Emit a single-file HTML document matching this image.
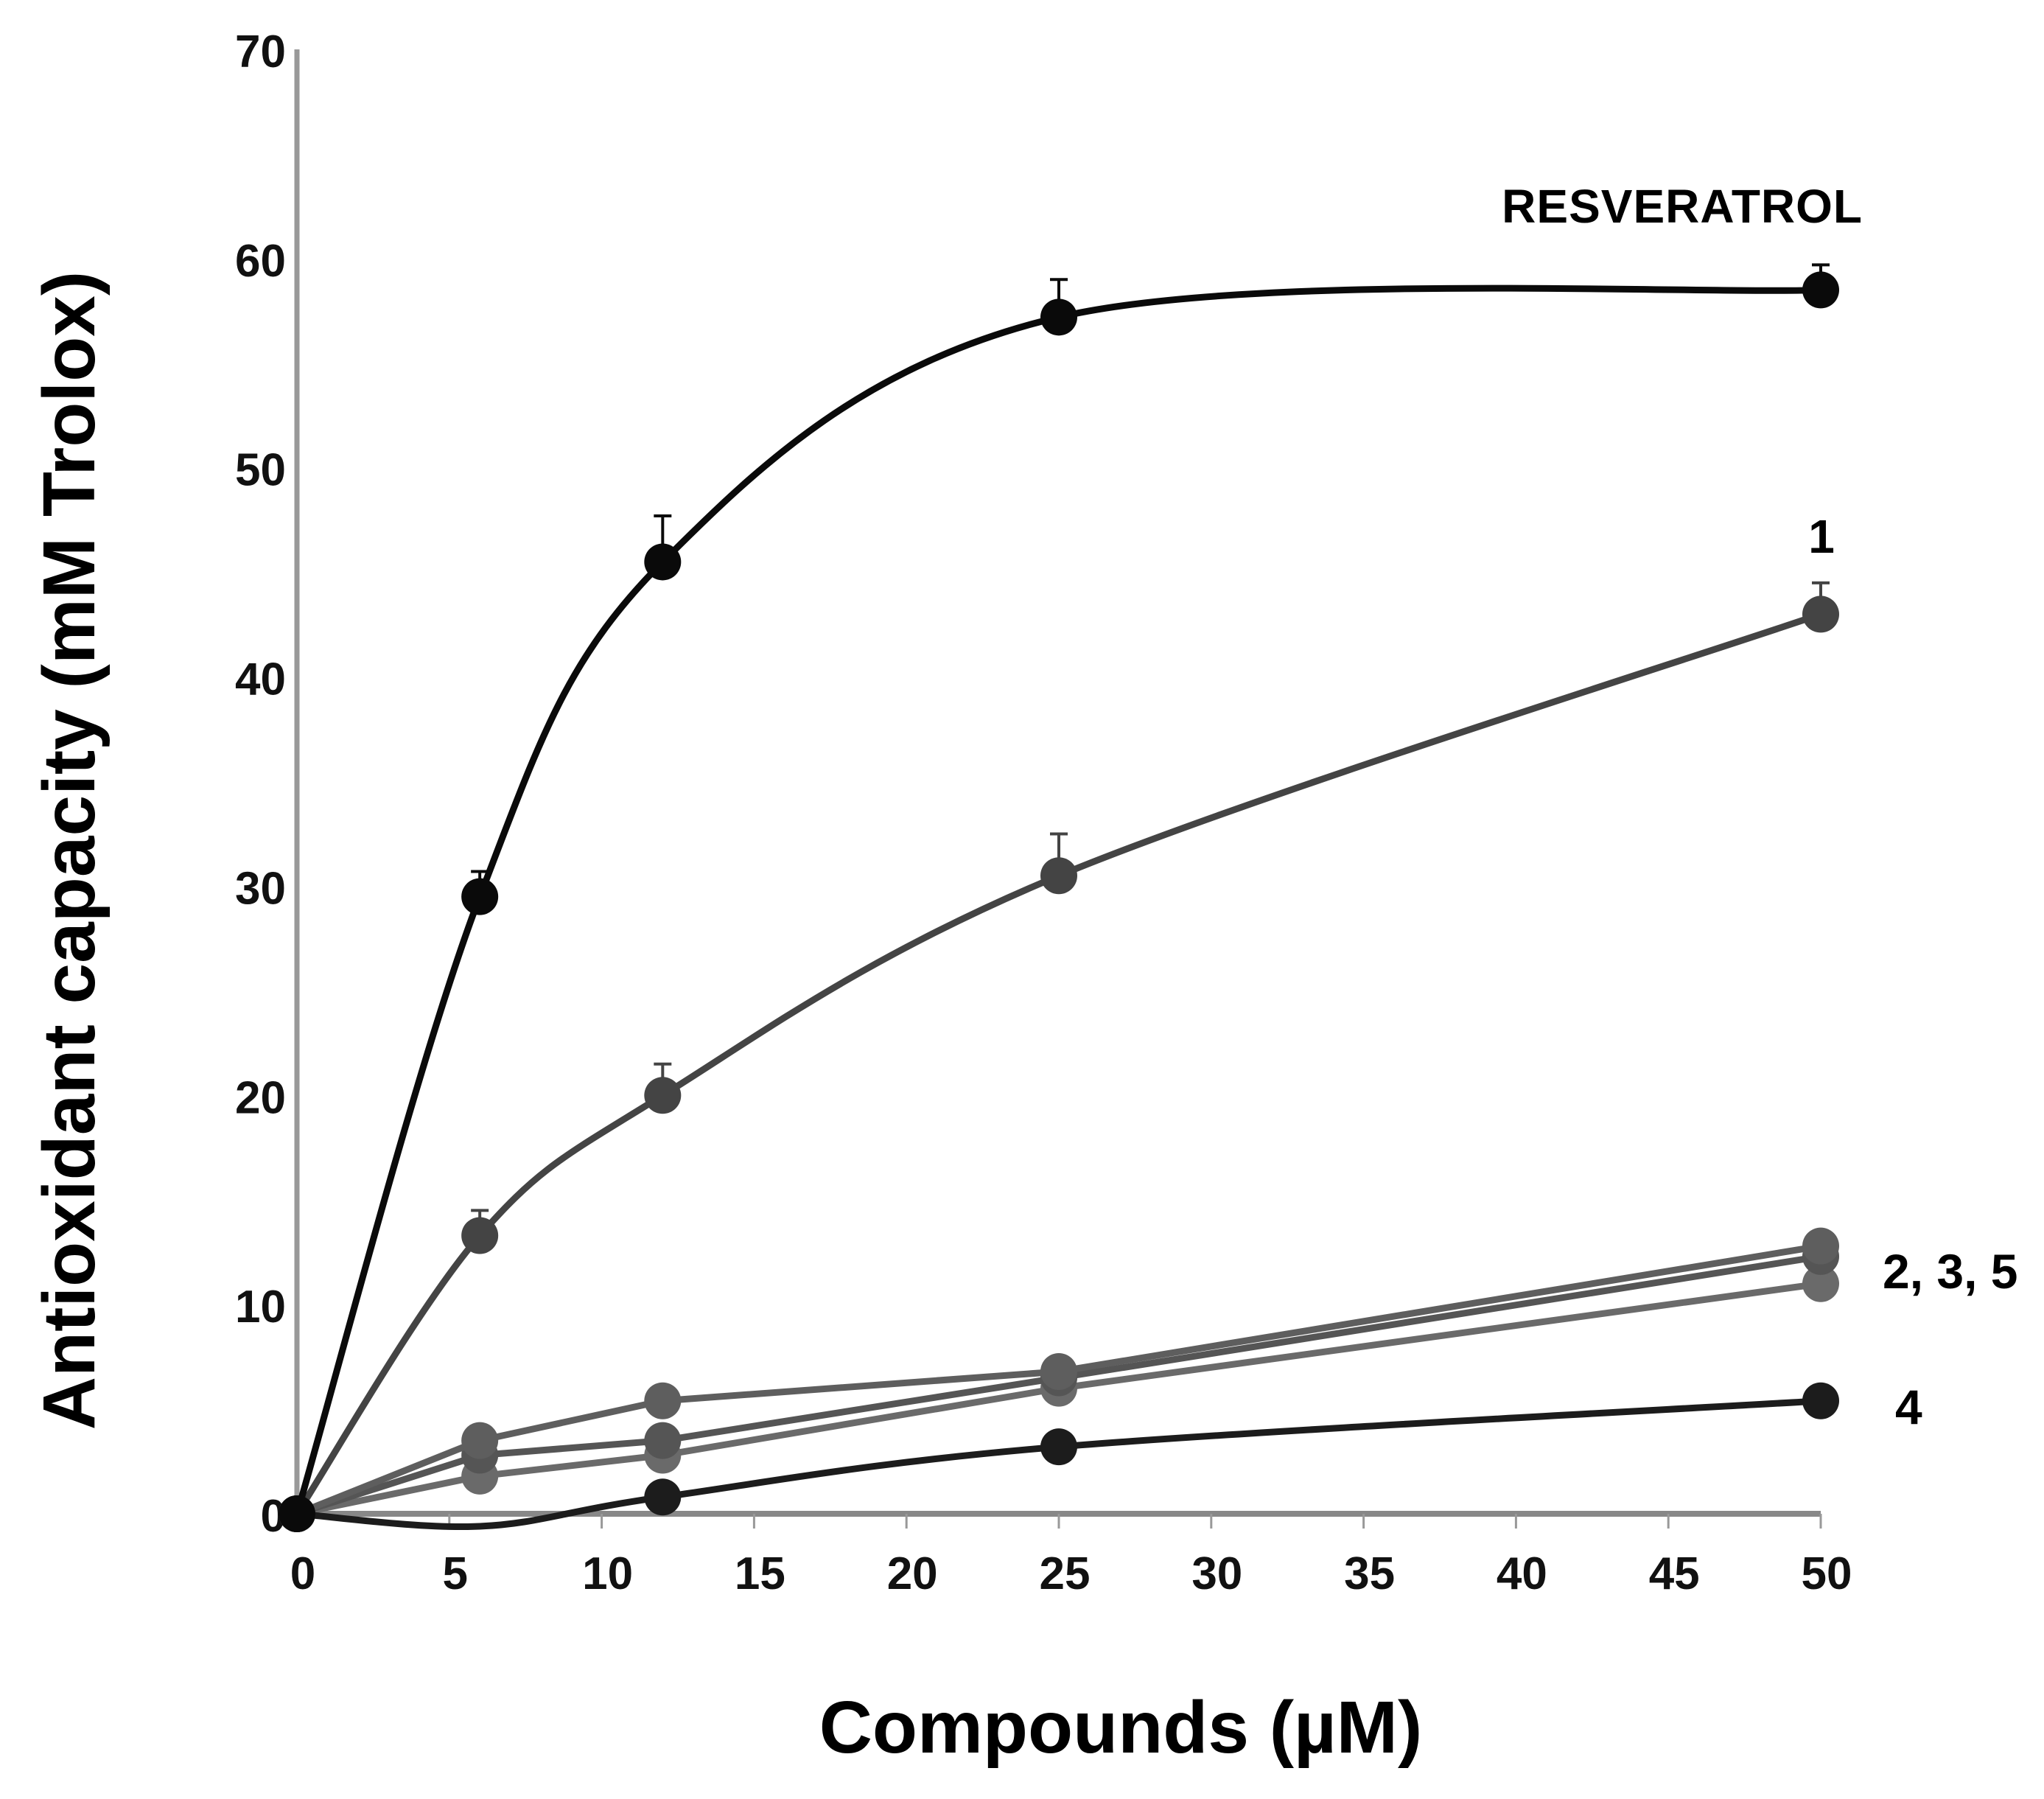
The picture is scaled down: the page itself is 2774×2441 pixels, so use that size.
<!DOCTYPE html>
<html><head><meta charset="utf-8"><style>
html,body{margin:0;padding:0;background:#fff;}
svg{display:block;font-family:"Liberation Sans",Arial,sans-serif;}
</style></head><body>
<svg id="chart" width="2774" height="2441" viewBox="0 0 2774 2441" xmlns="http://www.w3.org/2000/svg">
<g id="axes"></g>
<g id="series"></g>
<text x="1521" y="2378" font-size="100" font-weight="bold" text-anchor="middle">Compounds (µM)</text>
<text transform="translate(128,1154) rotate(-90)" font-size="100" font-weight="bold" text-anchor="middle">Antioxidant capacity (mM Trolox)</text>
<text x="2528" y="302" font-size="64" font-weight="bold" text-anchor="end" letter-spacing="1">RESVERATROL</text>
<text x="2472" y="750" font-size="64" font-weight="bold" text-anchor="middle">1</text>
<text x="2555" y="1748" font-size="66" font-weight="bold">2, 3, 5</text>
<text x="2572" y="1932" font-size="66" font-weight="bold">4</text>
</svg>
<script>
const xTicks = [0,5,10,15,20,25,30,35,40,45,50];
const yTicks = [0,10,20,30,40,50,60,70];
const doses = [0,6,12,25,50];
const resveratrol = [0,29.5,45.5,57.2,58.5];
const resveratrolErr = [0,1.2,2.2,1.8,1.2];
const compound1 = [0,13.3,20,30.5,43];
const compound1Err = [0,1.2,1.5,2.0,1.5];
const compound2 = [0,3.5,5.4,6.8,12.8];
const compound3 = [0,2.8,3.5,6.5,12.3];
const compound5 = [0,1.8,2.8,6.0,11.0];
const doses4 = [0,6,12,25,50];
const compound4 = [0,-0.6,0.8,3.2,5.4];

const X0=403,X1=2471,Y0=2054,Y70=67;
const sx=v=>X0+(X1-X0)*v/50;
const sy=v=>Y0-(Y0-Y70)*v/70;
const NS='http://www.w3.org/2000/svg';
const axes=document.getElementById('axes');
const ser=document.getElementById('series');
function mk(tag,attrs,parent){const e=document.createElementNS(NS,tag);for(const k in attrs)e.setAttribute(k,attrs[k]);parent.appendChild(e);return e;}

let e=mk('line',{x1:X0,y1:Y70,x2:X0,y2:Y0,stroke:'#999','stroke-width':7},axes);


e=mk('line',{x1:X0,y1:Y0,x2:X1,y2:Y0,stroke:'#888','stroke-width':8},axes);


xTicks.forEach(t=>{
  const tk=mk('line',{x1:sx(t),y1:Y0,x2:sx(t),y2:Y0+20,stroke:'#999','stroke-width':3},axes);
  
  
  const tl=mk('text',{x:sx(t)+8,y:2156,'font-size':62,'font-weight':'bold','text-anchor':'middle',fill:'#111'},axes);
  tl.textContent=t;
  
  
});
yTicks.forEach(t=>{
  const tl=mk('text',{x:388,y:sy(t)+24,'font-size':62,'font-weight':'bold','text-anchor':'end',fill:'#111'},axes);
  tl.textContent=t;
  
  
});

function smoothPath(xs,ys){
  const p=xs.map((x,i)=>[sx(x),sy(ys[i])]);
  let d='M'+p[0][0]+','+p[0][1];
  for(let i=0;i<p.length-1;i++){
    const a=p[Math.max(i-1,0)],b=p[i],c=p[i+1],dd=p[Math.min(i+2,p.length-1)];
    const c1=[b[0]+(c[0]-a[0])/6,b[1]+(c[1]-a[1])/6];
    const c2=[c[0]-(dd[0]-b[0])/6,c[1]-(dd[1]-b[1])/6];
    d+=` C${c1[0]},${c1[1]} ${c2[0]},${c2[1]} ${c[0]},${c[1]}`;
  }
  return d;
}
function linePath(xs,ys){return xs.map((x,i)=>(i?'L':'M')+sx(x)+','+sy(ys[i])).join(' ');}

function drawSeries(name,xs,ys,color,smooth,err,markerIdx){
  const g=mk('g',{},ser);
  
  
  const path=mk('path',{d:smooth?smoothPath(xs,ys):linePath(xs,ys),fill:'none',stroke:color,'stroke-width':9},g);
  
  
  xs.forEach((x,i)=>{
    if(markerIdx && !markerIdx.includes(i))return;
    if(err && err[i]>0){
      const eb=mk('path',{d:`M${sx(x)},${sy(ys[i])} V${sy(ys[i]+err[i])} M${sx(x)-12},${sy(ys[i]+err[i])} H${sx(x)+12}`,stroke:color,'stroke-width':4,fill:'none'},g);
      
      
    }
    const c=mk('circle',{cx:sx(x),cy:sy(ys[i]),r:25,fill:color},g);
    
    
  });
}
drawSeries('series-5',doses,compound5,'#6a6a6a',false,null);
drawSeries('series-3',doses,compound3,'#555555',false,null);
drawSeries('series-2',doses,compound2,'#5e5e5e',false,null);
drawSeries('series-4',doses4,compound4,'#1c1c1c',true,null,[0,2,3,4]);
drawSeries('series-1',doses,compound1,'#444444',true,compound1Err);
drawSeries('series-resveratrol',doses,resveratrol,'#0a0a0a',true,resveratrolErr);
</script>
</body></html>
